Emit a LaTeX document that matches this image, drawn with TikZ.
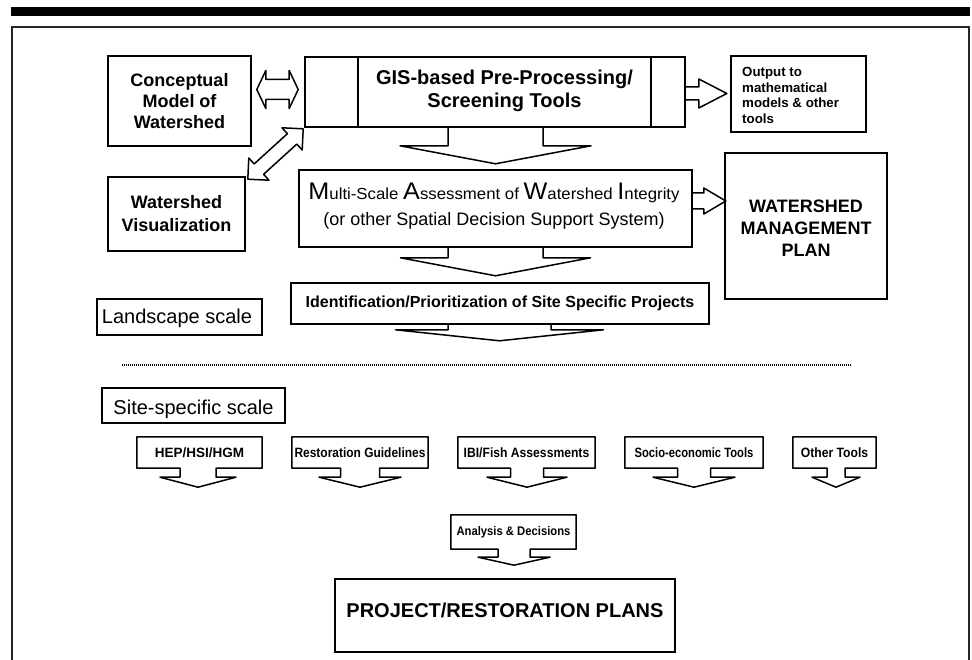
\documentclass[tikz,border=0pt]{standalone}
\usepackage{fontspec}
\usepackage{graphicx}
\setmainfont{Liberation Sans}
\usetikzlibrary{calc}
\newcommand{\fs}[2]{\fontsize{#1}{#2}\selectfont}
% down block arrow hanging below a point: #1 top centre, #2 shaft half, #3 wing half, #4 shaft length, #5 head length
\newcommand{\dnarr}[5]{\draw[blk] ($(#1)+(-#2,0)$) -- ++(0,#4) -- ++({#2-#3},0) -- ++(#3,#5) -- ++(#3,-#5) -- ++({#2-#3},0) -- ++(0,-#4);}
% right block arrow: #1 tail centre, #2 shaft half, #3 head half, #4 shaft length, #5 head length
\newcommand{\rtarr}[5]{\draw[blk] ($(#1)+(0,-#2)$) -- ++(#4,0) -- ++(0,{#2-#3}) -- ++(#5,#3) -- ++(-#5,#3) -- ++(0,{#2-#3}) -- ++(-#4,0);}
% box merged with a down arrow: #1 node, #2 offset, #3 shaft half, #4 wing half, #5 shaft length, #6 head length
\newcommand{\toolshape}[6]{\draw[blk] (#1.south west) -- (#1.north west) -- (#1.north east) -- (#1.south east) -- ($(#1.south)+({#2+#3},0)$) -- ++(0,#5) -- ++({#4-#3},0) -- ++({-#4},#6) -- ++({-#4},-#6) -- ++({#4-#3},0) -- ++(0,-#5) -- cycle;}
% double block arrow between two points: #3 shaft half, #4 head half, #5 head length
\newcommand{\dblarr}[5]{\draw[blk] (#1) -- ($(#1)!#5!(#2)!#4!90:(#2)$) -- ($(#1)!#5!(#2)!#3!90:(#2)$)
 -- ($(#2)!#5!(#1)!#3!90:(#2)$) -- ($(#2)!#5!(#1)!#4!90:(#2)$) -- (#2)
 -- ($(#2)!#5!(#1)!#4!-90:(#2)$) -- ($(#2)!#5!(#1)!#3!-90:(#2)$)
 -- ($(#1)!#5!(#2)!#3!-90:(#2)$) -- ($(#1)!#5!(#2)!#4!-90:(#2)$) -- cycle;}
\begin{document}
\begin{tikzpicture}[x=1pt,y=-1pt,
  box/.style={draw, line width=1.6pt, inner sep=0pt},
  blk/.style={draw, line width=1.5pt, line join=round},
  tool/.style={inner sep=0pt, minimum height=31pt, font=\bfseries\fs{13.5}{16}},
  lbl/.style={inner sep=0pt, align=center}]
\useasboundingbox (0,0) rectangle (972,660);
\fill (11,7) rectangle (970,16);
\draw[line width=2pt, color=black!85] (12,660) -- (12,27) -- (969,27) -- (969,660);

\node[box, minimum width=143pt, minimum height=90pt, font=\bfseries\fs{18}{21}, align=center] (concept) at (179.5,101) {Conceptual\\Model of\\Watershed};
\node[box, minimum width=137pt, minimum height=74pt, font=\bfseries\fs{18}{23}, align=center] (vis) at (176.5,214) {Watershed\\Visualization};
\node[box, minimum width=380pt, minimum height=70pt] (gis) at (495,92) {};
\draw[line width=1.6pt] ($(gis.north west)+(54,0)$) -- ($(gis.south west)+(54,0)$);
\draw[line width=1.6pt] ($(gis.north east)+(-35,0)$) -- ($(gis.south east)+(-35,0)$);
\node[lbl, font=\bfseries\fs{20}{23}] (gistxt) at (504.5,90.5) {GIS-based Pre-Processing/\\Screening Tools};
\node[box, minimum width=135pt, minimum height=76pt] (out) at (798.5,94) {};
\node[lbl, align=left, anchor=west, font=\bfseries\fs{13.3}{15.7}] (outtxt) at (742,95.5) {Output to\\mathematical\\models \& other\\tools};
\node[box, minimum width=393pt, minimum height=77pt] (multi) at (495.5,208.5) {};
\node[lbl, anchor=base] (m1) at (494,199.5) {\scalebox{1.05}[1]{\fs{24}{28}M\fs{16}{19}ulti-Scale \fs{24}{28}A\fs{16}{19}ssessment of \fs{24}{28}W\fs{16}{19}atershed \fs{24}{28}I\fs{16}{19}ntegrity}};
\node[lbl, anchor=base, font=\fs{18}{21}] (m2) at (494,226) {(or other Spatial Decision Support System)};
\node[box, minimum width=162pt, minimum height=146pt] (wmp) at (806,226) {};
\node[lbl, font=\bfseries\fs{18}{22}] (wmptxt) at (806,228) {WATERSHED\\MANAGEMENT\\PLAN};
\node[box, minimum width=418pt, minimum height=41pt, font=\bfseries\fs{16}{19}] (ident) at (500,303.5) {Identification/Prioritization of Site Specific Projects};
\node[box, minimum width=165pt, minimum height=36pt] (land) at (179.5,317) {};
\node[lbl, font=\fs{20}{24}] (landtxt) at (177,318) {Landscape scale};
\draw[line width=1.2pt, dash pattern=on 0.9pt off 1.1pt] (122,365) -- (851,365);
\node[box, minimum width=183pt, minimum height=35pt] (site) at (193.5,405.5) {};
\node[lbl, font=\fs{20}{24}] (sitetxt) at (193.5,409) {Site-specific scale};

\node[tool, minimum width=125pt] (hep) at (199.5,452.5) {HEP/HSI/HGM};
\node[tool, minimum width=136pt] (rest) at (360,452.5) {\scalebox{0.886}[1]{Restoration Guidelines}};
\node[tool, minimum width=137pt] (ibi) at (526.5,452.5) {\scalebox{0.9}[1]{IBI/Fish Assessments}};
\node[tool, minimum width=138pt] (socio) at (694,452.5) {\scalebox{0.83}[1]{Socio-economic Tools}};
\node[tool, minimum width=83pt] (other) at (834.5,452.5) {\scalebox{0.9}[1]{Other Tools}};
\toolshape{hep}{-1.5}{18}{38}{9}{10}
\toolshape{rest}{0}{19.5}{41}{9}{10}
\toolshape{ibi}{0.5}{16.5}{40}{9}{10}
\toolshape{socio}{0}{16.5}{41}{9}{10}
\toolshape{other}{1.5}{9}{24}{9}{10}

\node[tool, minimum width=125pt, minimum height=34pt, font=\bfseries\fs{12.5}{15}] (ad) at (513.5,532) {\scalebox{0.9}[1]{Analysis \& Decisions}};
\toolshape{ad}{0.5}{16}{36}{8}{8}
\node[box, minimum width=340pt, minimum height=73pt] (proj) at (505,615.5) {};
\node[lbl, font=\bfseries\fs{20}{24}] (projtxt) at (505,610) {PROJECT/RESTORATION PLANS};

\coordinate (h1) at ($(concept.east)+(5,-11.5)$);
\coordinate (h2) at ($(gis.west)+(-6,-2.5)$);
\dblarr{h1}{h2}{10pt}{19pt}{9pt}
\coordinate (d1) at ($(vis.north east)+(2,3)$);
\coordinate (d2) at ($(gis.south west)+(-1,1)$);
\dblarr{d1}{d2}{7pt}{15pt}{15pt}
\coordinate (go) at ($(gis.east)+(0,1.5)$);
\rtarr{go}{6.5}{14.5}{13}{28}
\coordinate (mw) at ($(multi.east)+(0,-7.5)$);
\rtarr{mw}{8}{13}{11}{22}
\coordinate (gm) at ($(gis.south)+(0.5,0)$);
\dnarr{gm}{47.5}{95.5}{18}{18}
\coordinate (mi) at (multi.south);
\dnarr{mi}{47.5}{95}{10}{18}
\coordinate (il) at ($(ident.south)+(-0.5,0)$);
\dnarr{il}{51.5}{104}{5}{11}
\end{tikzpicture}
\end{document}
